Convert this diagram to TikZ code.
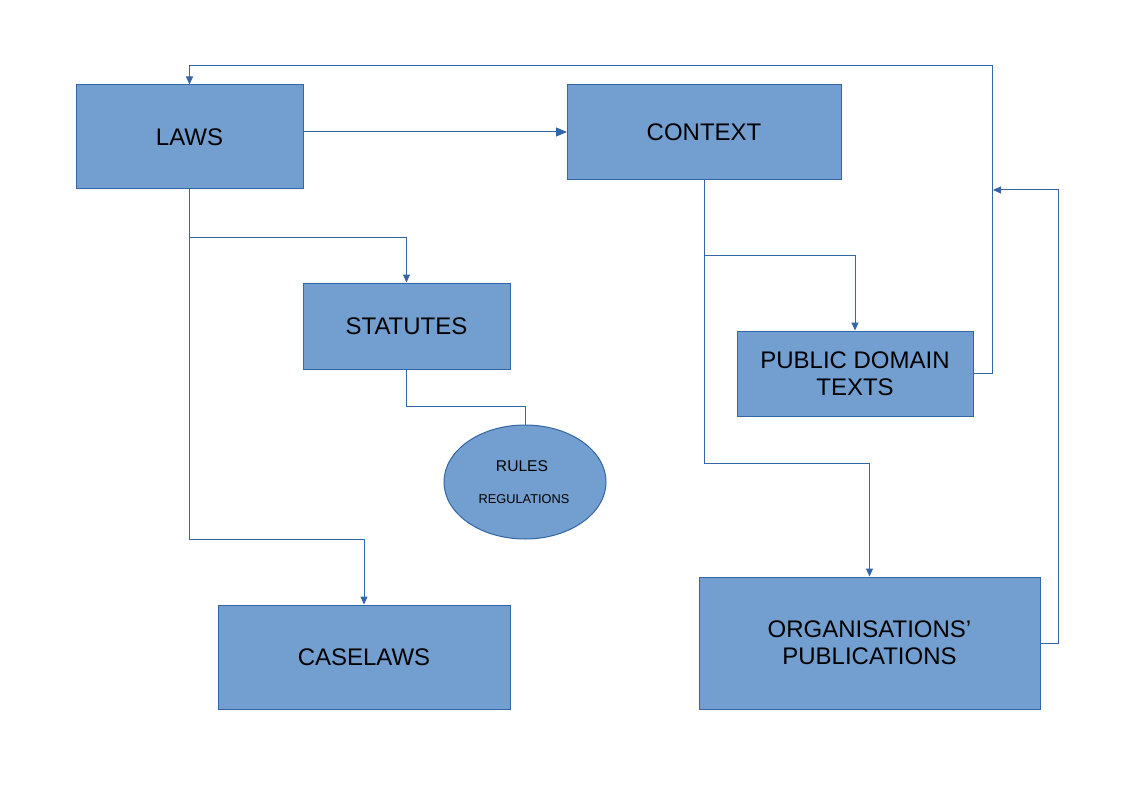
\documentclass[tikz,border=0pt]{standalone}
\usepackage{fontspec}
\setmainfont{Liberation Sans}
\usetikzlibrary{arrows.meta,shapes.geometric}
\definecolor{boxfill}{HTML}{729FCF}
\definecolor{boxline}{HTML}{3465A4}
\tikzset{
  box/.style={draw=boxline, line width=1pt, fill=boxfill, inner sep=0pt, align=center, font=\fontsize{24}{27}\selectfont},
  conn/.style={draw=boxline, line width=1pt},
  arr/.style={conn, -{Triangle[length=8pt,width=7pt]}},
  bigarr/.style={conn, -{Triangle[length=11pt,width=9pt]}}
}
\begin{document}
\begin{tikzpicture}[x=1pt,y=-1pt]
\useasboundingbox (0,0) rectangle (1123,794);
\node[box, minimum width=227pt, minimum height=104pt] (laws) at (189.5,137) {LAWS};
\node[box, minimum width=274pt, minimum height=95pt] (context) at (704,132.5) {CONTEXT};
\node[box, minimum width=207pt, minimum height=86pt] (statutes) at (406.5,326) {STATUTES};
\node[box, minimum width=292pt, minimum height=104pt] (caselaws) at (364,657) {CASELAWS};
\node[box, minimum width=236pt, minimum height=85pt] (public) at (855,373.5) {PUBLIC DOMAIN\\TEXTS};
\node[box, minimum width=341pt, minimum height=132pt] (org) at (869.5,643) {ORGANISATIONS’\\PUBLICATIONS};
\node[ellipse, draw=boxline, line width=1pt, fill=boxfill, minimum width=162pt, minimum height=114pt, inner sep=0pt] (rules) at (525,482) {};
\node[font=\fontsize{15.6}{18}\selectfont] (rulestxt) at (522,466) {RULES};
\node[font=\fontsize{12.8}{15}\selectfont] (regtxt) at (524,499) {REGULATIONS};

\coordinate (lawsout) at (303,132);
\coordinate (ctxin) at (567,132);
\coordinate (top) at (992,66);
\coordinate (ret) at (993,190);

\draw[bigarr] (lawsout) -- (ctxin);
\draw[arr] (laws.south) -- ++(0,48) -| (statutes.north);
\draw[arr] (laws.south) -- ++(0,350) -| (caselaws.north);
\draw[conn] (statutes.south) -- ++(0,37) -| (rules.north);
\draw[arr] (context.south) -- ++(0,75) -| (public.north);
\draw[arr] (context.south) -- ++(0,283) -| (org.north);
\draw[arr] (public.east) -| (top) -| (laws.north);
\draw[arr] (org.east) -- ++(18,0) |- (ret);
\end{tikzpicture}
\end{document}
